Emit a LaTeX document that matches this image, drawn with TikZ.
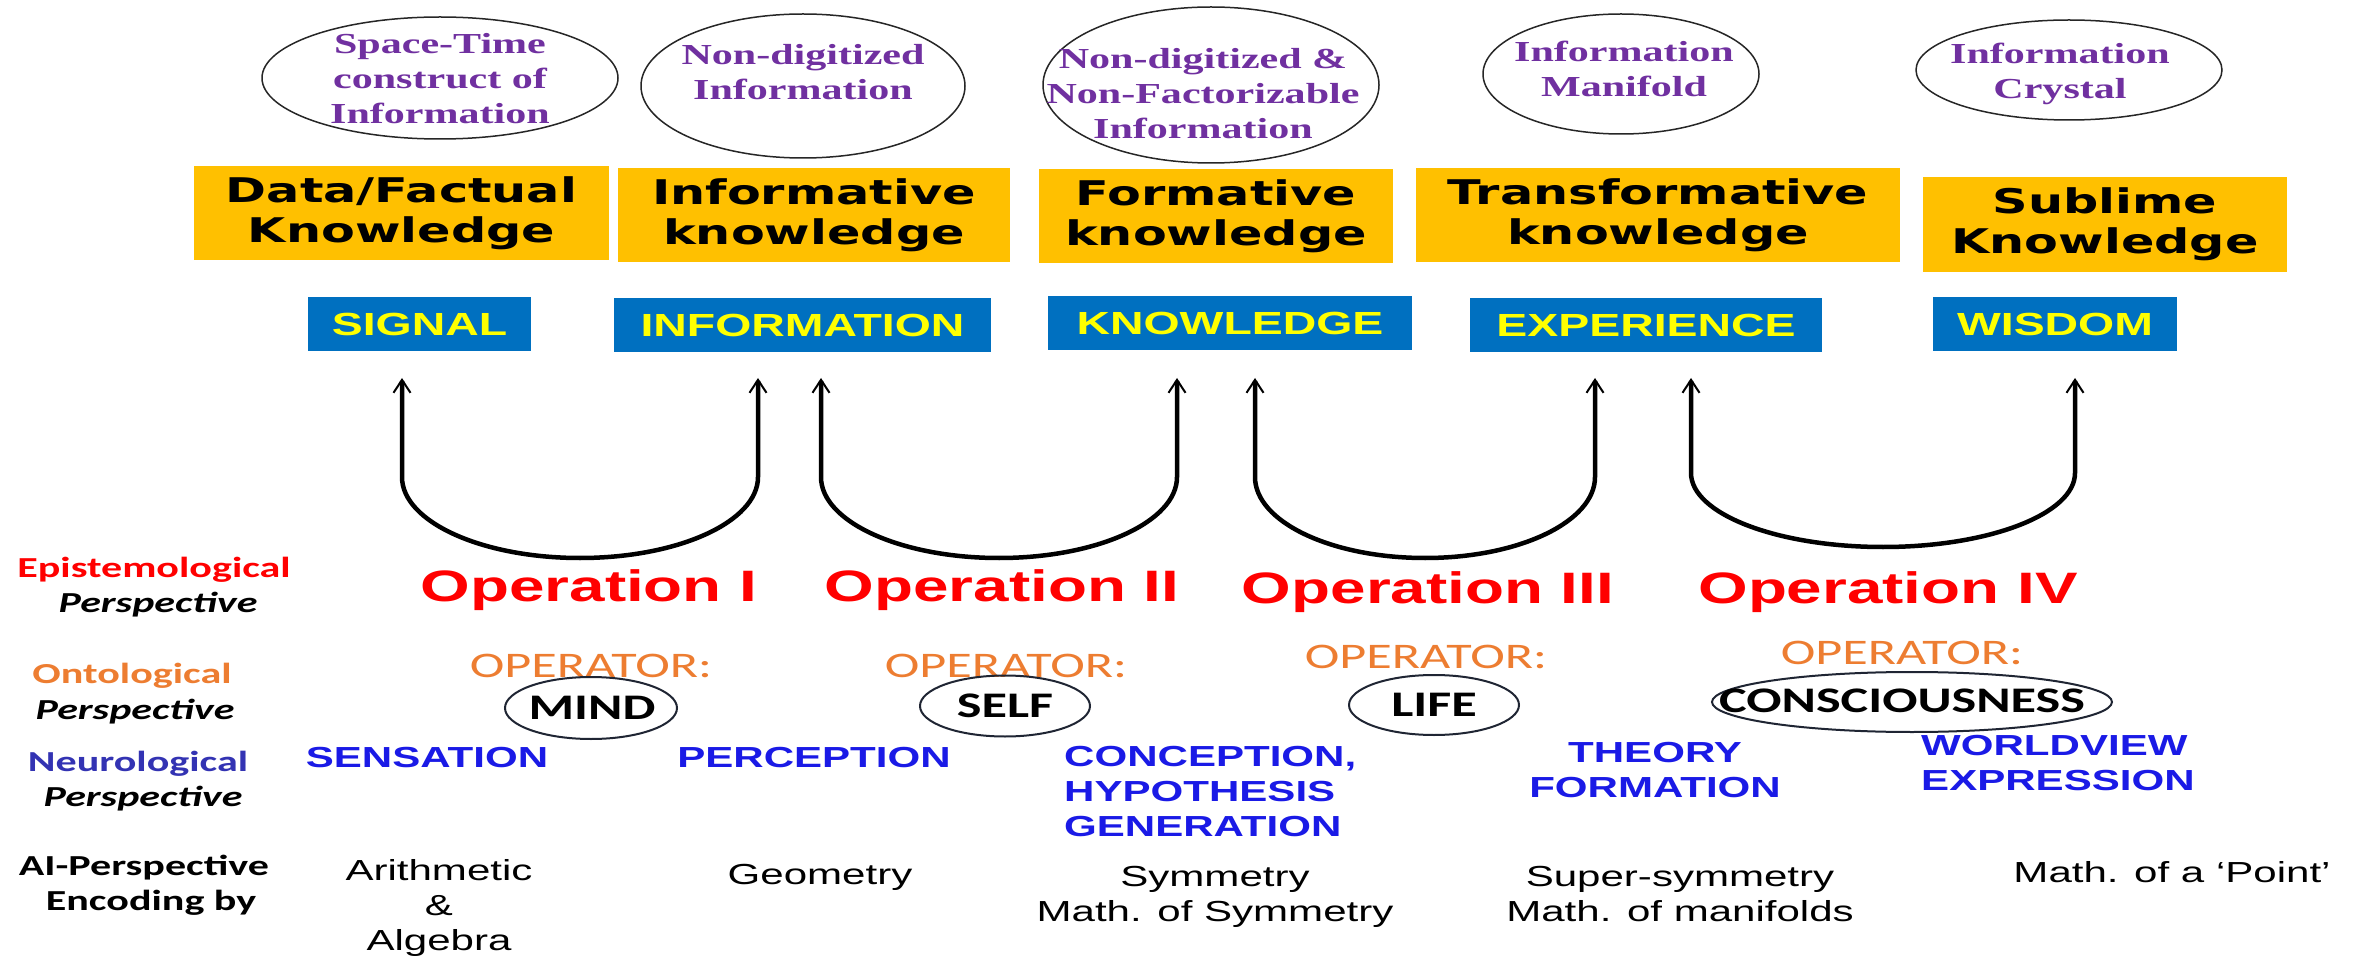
\documentclass[tikz,border=0pt]{standalone}
\usepackage{fontspec}
\setmainfont{Liberation Sans}[FakeStretch=1.45]
\newfontfamily\timesfont{Liberation Serif}[FakeStretch=1.45]
\newfontfamily\califont{Carlito}[FakeStretch=1.45]
\newfontfamily\handfont{DejaVu Sans}[FakeStretch=1.45]
\usetikzlibrary{arrows.meta,shapes.geometric}

\definecolor{infopurple}{HTML}{7030A0}
\definecolor{kgold}{HTML}{FFC000}
\definecolor{sblue}{HTML}{0070C0}
\definecolor{syellow}{HTML}{FFFF00}
\definecolor{opred}{HTML}{FF0000}
\definecolor{oporange}{HTML}{ED7D31}
\definecolor{neublue}{HTML}{1A1AE6}
\definecolor{neulabel}{HTML}{3333B3}
\definecolor{ringgray}{HTML}{1F2533}

\tikzset{
  inforing/.style={ellipse, draw=black!85, line width=1.5pt, inner sep=0pt},
  infotext/.style={inner sep=0pt, align=center, text=infopurple,
    font=\timesfont\bfseries\fontsize{29}{35}\selectfont},
  kbox/.style={fill=kgold, minimum height=94pt, inner sep=0pt, align=center,
    font=\handfont\bfseries\fontsize{34}{40}\selectfont},
  sbox/.style={fill=sblue, minimum height=54pt, inner sep=0pt, text=syellow,
    font=\bfseries\fontsize{32}{38}\selectfont},
  uarrow/.style={line width=4.5pt,
    {Straight Barb[length=13pt,width=17pt,line width=2pt]}-{Straight Barb[length=13pt,width=17pt,line width=2pt]}},
  persp/.style={inner sep=0pt, font=\califont\bfseries\fontsize{29}{35}\selectfont},
  perspit/.style={persp, font=\califont\bfseries\itshape\fontsize{29}{35}\selectfont},
  opname/.style={inner sep=0pt, text=opred, font=\bfseries\fontsize{44}{50}\selectfont},
  opor/.style={inner sep=0pt, text=oporange, font=\califont\fontsize{36}{40}\selectfont},
  opring/.style={ellipse, draw=ringgray, line width=2pt, inner sep=0pt},
  optext/.style={inner sep=0pt, font=\califont\bfseries\fontsize{36}{40}\selectfont},
  neuro/.style={inner sep=0pt, text=neublue, font=\bfseries\fontsize{29}{35}\selectfont},
  enc/.style={inner sep=0pt, align=center, font=\fontsize{29}{35}\selectfont}
}

\begin{document}
\begin{tikzpicture}[x=1pt,y=-1pt]
  \fill[white] (0,0) rectangle (2359,957);
  \useasboundingbox (0,0) rectangle (2359,957);

  % information ellipses
  \node[inforing, minimum width=356pt, minimum height=122pt] (r1) at (440,78) {};
  \node[inforing, minimum width=324pt, minimum height=144pt] (r2) at (803,86) {};
  \node[inforing, minimum width=336pt, minimum height=156pt] (r3) at (1211,85) {};
  \node[inforing, minimum width=276pt, minimum height=120pt] (r4) at (1621,74) {};
  \node[inforing, minimum width=306pt, minimum height=100pt] (r5) at (2069,70) {};

  \node[infotext] (i1) at (440,79) {Space-Time\\construct of\\Information};
  \node[infotext] (i2) at (803,72) {Non-digitized\\Information};
  \node[infotext] (i3) at (1203,94) {Non-digitized \&\\Non-Factorizable\\Information};
  \node[infotext] (i4) at (1624,69) {Information\\Manifold};
  \node[infotext] (i5) at (2060,74) {Information\\Crystal};

  % knowledge boxes
  \node[kbox, minimum width=415pt] (k1) at (401.5,213) {Data/Factual\\Knowledge};
  \node[kbox, minimum width=392pt] (k2) at (814,215) {Informative\\knowledge};
  \node[kbox, minimum width=354pt] (k3) at (1216,216.5) {Formative\\knowledge};
  \node[kbox, minimum width=484pt] (k4) at (1658,215.5) {Transformative\\knowledge};
  \node[kbox, minimum width=364pt, minimum height=95pt] (k5) at (2105,224.5) {Sublime\\Knowledge};

  % stages
  \node[sbox, minimum width=223pt] (s1) at (419.5,324) {SIGNAL};
  \node[sbox, minimum width=377pt] (s2) at (802.5,325) {INFORMATION};
  \node[sbox, minimum width=364pt] (s3) at (1230,323) {KNOWLEDGE};
  \node[sbox, minimum width=352pt] (s4) at (1646,325.5) {EXPERIENCE};
  \node[sbox, minimum width=244pt] (s5) at (2055,324) {WISDOM};

  % operation arrows
  \coordinate (u1a) at (402,378);  \coordinate (u1b) at (758,378);
  \coordinate (u2a) at (821,378);  \coordinate (u2b) at (1177,378);
  \coordinate (u3a) at (1255,378); \coordinate (u3b) at (1595,378);
  \coordinate (u4a) at (1691,378); \coordinate (u4b) at (2075,378);
  \draw[uarrow] (u1a) -- ++(0,99) arc[start angle=180, end angle=360, x radius=178pt, y radius=81pt] -- (u1b);
  \draw[uarrow] (u2a) -- ++(0,99) arc[start angle=180, end angle=360, x radius=178pt, y radius=81pt] -- (u2b);
  \draw[uarrow] (u3a) -- ++(0,99) arc[start angle=180, end angle=360, x radius=170pt, y radius=81pt] -- (u3b);
  \draw[uarrow] (u4a) -- ++(0,95) arc[start angle=180, end angle=360, x radius=192pt, y radius=74pt] -- (u4b);

  % perspectives
  \node[persp, text=opred] (epi) at (154,570) {Epistemological};
  \node[perspit] (epip) at (158,605) {Perspective};
  \node[persp, text=oporange] (ont) at (132,676) {Ontological};
  \node[perspit] (ontp) at (135,712) {Perspective};
  \node[persp, text=neulabel] (neu) at (138,764) {Neurological};
  \node[perspit] (neup) at (143,799) {Perspective};
  \node[persp] (ai) at (144,868) {AI-Perspective};
  \node[persp] (aie) at (151,903) {Encoding by};

  % operations
  \node[opname] (op1) at (589,590) {Operation I};
  \node[opname] (op2) at (1002,590) {Operation II};
  \node[opname] (op3) at (1428,592) {Operation III};
  \node[opname] (op4) at (1888,592) {Operation IV};

  % operators
  \node[opor] (or1) at (591,666) {OPERATOR:};
  \node[opor] (or2) at (1006,666) {OPERATOR:};
  \node[opor] (or3) at (1426,657) {OPERATOR:};
  \node[opor] (or4) at (1902,653) {OPERATOR:};
  \node[opring, minimum width=172pt, minimum height=62pt] (mindring) at (591,708) {};
  \node[opring, minimum width=170pt, minimum height=61pt] (selfring) at (1005,706) {};
  \node[opring, minimum width=170pt, minimum height=60pt] (lifering) at (1434,705) {};
  \node[opring, minimum width=400pt, minimum height=60pt] (consring) at (1912,702) {};
  \node[optext] (mind) at (592,708) {MIND};
  \node[optext] (self) at (1005,706) {SELF};
  \node[optext] (life) at (1434,705) {LIFE};
  \node[optext] (cons) at (1902,701) {CONSCIOUSNESS};

  % neurological stages
  \node[neuro] (n1) at (427,758) {SENSATION};
  \node[neuro] (n2) at (814,758) {PERCEPTION};
  \node[neuro, align=left, anchor=west] (n3) at (1064,792) {CONCEPTION,\\HYPOTHESIS\\GENERATION};
  \node[neuro, align=center] (n4) at (1655,770) {THEORY\\FORMATION};
  \node[neuro, align=left, anchor=west] (n5) at (1921,763) {WORLDVIEW\\EXPRESSION};

  % encodings
  \node[enc] (c1) at (439,908) {Arithmetic\\\&\\Algebra};
  \node[enc] (c2) at (820,877) {Geometry};
  \node[enc] (c3) at (1215,897) {Symmetry\\Math. of Symmetry};
  \node[enc] (c4) at (1680,894) {Super-symmetry\\Math. of manifolds};
  \node[enc] (c5) at (2172,872) {Math. of a ‘Point’};
\end{tikzpicture}
\end{document}
